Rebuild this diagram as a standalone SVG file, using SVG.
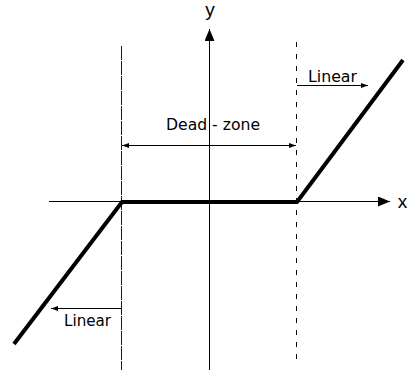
<svg xmlns="http://www.w3.org/2000/svg" width="409" height="372" viewBox="0 0 409 372">
  <style>
    .thin { stroke: #000; stroke-width: 1; fill: none; }
    .dash { stroke: #000; stroke-width: 1; fill: none; stroke-dasharray: 5 7; }
    .ldash { stroke: #1a1a1a; stroke-width: 1; fill: none; stroke-dasharray: 14 1; }
    .curve { stroke: #000; stroke-width: 4; fill: none; stroke-linejoin: miter; }
    .lbl { font-family: "DejaVu Sans", Verdana, sans-serif; font-size: 15px; fill: #000; }
    .axl { font-family: "Liberation Sans", Arial, sans-serif; font-size: 19px; fill: #000; }
  </style>
  <defs>
    <marker id="big" markerWidth="12" markerHeight="10" refX="12" refY="5" orient="auto" markerUnits="userSpaceOnUse">
      <path d="M0,0 L12,5 L0,10 Z" fill="#000"/>
    </marker>
    <marker id="small" markerWidth="7" markerHeight="5" refX="7" refY="2.5" orient="auto" markerUnits="userSpaceOnUse">
      <path d="M0,0 L7,2.5 L0,5 Z" fill="#000"/>
    </marker>
    <marker id="smallStart" markerWidth="7" markerHeight="5" refX="0" refY="2.5" orient="auto" markerUnits="userSpaceOnUse">
      <path d="M7,0 L0,2.5 L7,5 Z" fill="#000"/>
    </marker>
  </defs>

  <g id="axes">
    <line id="x-axis" class="thin" x1="49" y1="201.5" x2="390" y2="201.5" marker-end="url(#big)"/>
    <line id="y-axis" class="thin" x1="209.5" y1="370" x2="209.5" y2="29" marker-end="url(#big)"/>
  </g>

  <g id="guides">
    <line id="left-bound" class="ldash" x1="121.5" y1="46" x2="121.5" y2="370"/>
    <line id="right-bound" class="dash" x1="296.5" y1="42" x2="296.5" y2="366"/>
  </g>

  <g id="connectors">
    <line id="deadzone-arrow" class="thin" x1="122" y1="145.5" x2="296" y2="145.5" marker-start="url(#smallStart)" marker-end="url(#small)"/>
    <line id="linear-right-arrow" class="thin" x1="297" y1="85.5" x2="368" y2="85.5" marker-end="url(#small)"/>
    <line id="linear-left-arrow" class="thin" x1="121" y1="308.5" x2="51" y2="308.5" marker-end="url(#small)"/>
  </g>

  <g id="curve">
    <polyline class="curve" points="14,344 122,202 297,202 403,60"/>
  </g>

  <g id="labels">
    <text class="axl" x="210" y="16" text-anchor="middle">y</text>
    <text class="axl" x="402.5" y="208" text-anchor="middle">x</text>
    <text class="lbl" x="166" y="130" textLength="94" lengthAdjust="spacingAndGlyphs">Dead - zone</text>
    <text class="lbl" x="308" y="82" textLength="49" lengthAdjust="spacingAndGlyphs">Linear</text>
    <text class="lbl" x="64" y="326" textLength="47" lengthAdjust="spacingAndGlyphs">Linear</text>
  </g>
</svg>
